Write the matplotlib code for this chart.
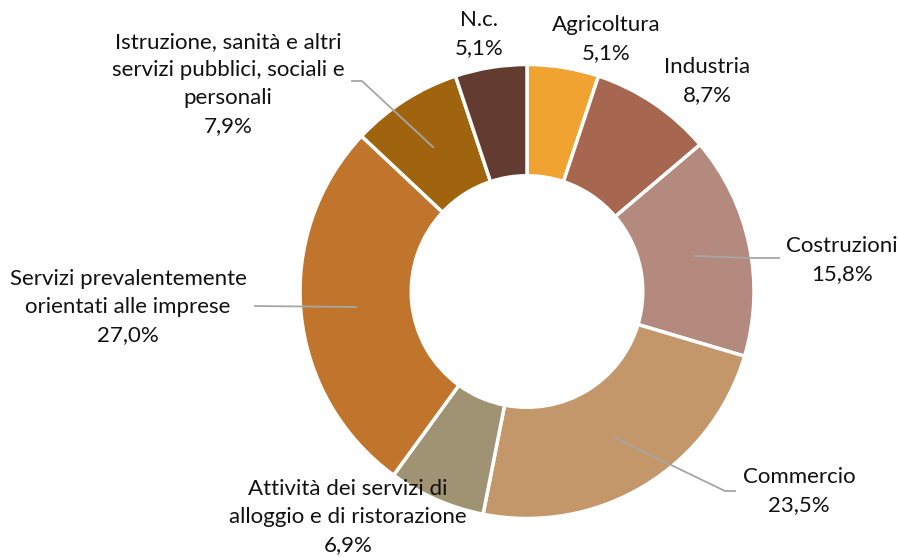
import matplotlib

matplotlib.use("Agg")
import matplotlib.pyplot as plt  # noqa: E402

# data
sectors = [
    "Agricoltura",
    "Industria",
    "Costruzioni",
    "Commercio",
    "Attività dei servizi di\nalloggio e di ristorazione",
    "Servizi prevalentemente\norientati alle imprese",
    "Istruzione, sanità e altri\nservizi pubblici, sociali e\npersonali",
    "N.c.",
]
shares = [5.1, 8.7, 15.8, 23.5, 6.9, 27.0, 7.9, 5.1]
colors = ["#F0A330", "#A66650", "#B58A7E", "#C4976B",
          "#A09374", "#C0742C", "#A0640F", "#633B30"]

W, H = 898, 557
# label text centres (pixels from top-left) and leader lines
label_pos = [(606, 39), (707, 81), (842, 260), (799, 491),
             (348, 517), (128, 307), (228, 84), (479, 34)]
leaders = {
    2: [(695, 256), (750, 258), (779, 258)],
    3: [(615, 438), (725, 491), (735, 491)],
    5: [(356, 307), (255, 306)],
    6: [(433, 147), (362, 81), (352, 81)],
}

plt.rcParams["font.family"] = ["Lato", "DejaVu Sans"]

fig = plt.figure(figsize=(W / 100, H / 100), dpi=100)
ax = fig.add_axes([0, 0, 1, 1])

cx, cy, r = 527, H - 291.5, 227
ax.pie(shares, colors=colors, startangle=90, counterclock=False,
       center=(cx, cy), radius=r, frame=True,
       wedgeprops=dict(width=r * 0.49, edgecolor="white", linewidth=2.5))
ax.set_xlim(0, W)
ax.set_ylim(0, H)
ax.axis("off")

for i, pts in leaders.items():
    xs = [p[0] for p in pts]
    ys = [H - p[1] for p in pts]
    ax.plot(xs, ys, color="#A6A6A6", lw=1.3, zorder=3)

for name, val, (x, y) in zip(sectors, shares, label_pos):
    txt = f"{name}\n{val:.1f}%".replace(".", ",").replace("N,c,", "N.c.")
    ax.text(x, H - y, txt, ha="center", va="center", fontsize=16,
            color="#111111", linespacing=1.5, zorder=4)

fig.savefig("out.png", dpi=100)
